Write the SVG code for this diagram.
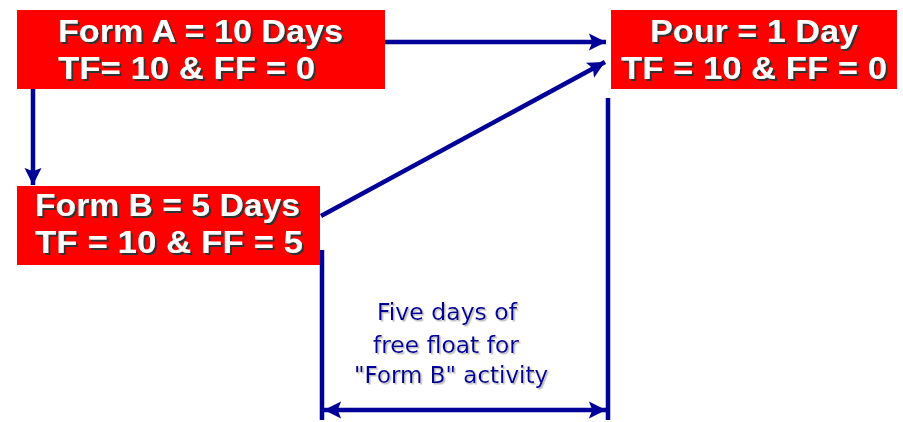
<svg xmlns="http://www.w3.org/2000/svg" width="903" height="422" viewBox="0 0 903 422">
<defs>
<marker id="ah" viewBox="0 0 10 10" refX="10" refY="5" markerWidth="3.8" markerHeight="4" orient="auto-start-reverse" markerUnits="strokeWidth">
<path d="M0,0 L10,5 L0,10 L2,5 z" fill="#000099"/>
</marker>
<filter id="sh" x="-5%" y="-20%" width="110%" height="140%">
<feDropShadow dx="2" dy="2" stdDeviation="0.3" flood-color="#333333" flood-opacity="1"/>
</filter>
<filter id="sh2" x="-5%" y="-20%" width="110%" height="140%">
<feDropShadow dx="1.5" dy="1.5" stdDeviation="0.3" flood-color="#bbbbbb" flood-opacity="1"/>
</filter>
</defs>
<style>
.box{fill:#ff0000}
.bt{font-family:"Liberation Sans",Arial,sans-serif;font-weight:bold;font-size:31px;fill:#ffffff;filter:url(#sh)}
.c{stroke:#000099;stroke-width:4.5;fill:none}
.lt{font-family:"DejaVu Sans","Verdana",sans-serif;font-size:23px;fill:#000099;text-anchor:middle;filter:url(#sh2)}
</style>
<rect width="903" height="422" fill="#ffffff"/>
<g id="connectors">
<line class="c" x1="385" y1="42" x2="606" y2="42" marker-end="url(#ah)"/>
<line class="c" x1="321" y1="216" x2="605" y2="62" marker-end="url(#ah)"/>
<line class="c" x1="33" y1="89" x2="33" y2="185" marker-end="url(#ah)"/>
<line class="c" x1="322" y1="250" x2="322" y2="420"/>
<line class="c" x1="608" y1="98" x2="608" y2="420"/>
<line class="c" x1="324" y1="410" x2="606" y2="410" marker-start="url(#ah)" marker-end="url(#ah)"/>
</g>
<g id="formA">
<rect class="box" x="17" y="10" width="368" height="79"/>
<text class="bt" x="58" y="42" textLength="285" lengthAdjust="spacingAndGlyphs">Form A = 10 Days</text>
<text class="bt" x="58" y="79" textLength="257" lengthAdjust="spacingAndGlyphs">TF= 10 &amp; FF = 0</text>
</g>
<g id="pour">
<rect class="box" x="611" y="10" width="286" height="79"/>
<text class="bt" x="650" y="42" textLength="208" lengthAdjust="spacingAndGlyphs">Pour = 1 Day</text>
<text class="bt" x="621" y="79" textLength="266" lengthAdjust="spacingAndGlyphs">TF = 10 &amp; FF = 0</text>
</g>
<g id="formB">
<rect class="box" x="17" y="186" width="303" height="79"/>
<text class="bt" x="35" y="216" textLength="265" lengthAdjust="spacingAndGlyphs">Form B = 5 Days</text>
<text class="bt" x="35" y="253" textLength="268" lengthAdjust="spacingAndGlyphs">TF = 10 &amp; FF = 5</text>
</g>
<g id="label">
<text class="lt" x="447" y="320" textLength="140" lengthAdjust="spacingAndGlyphs">Five days of</text>
<text class="lt" x="446" y="353" textLength="146" lengthAdjust="spacingAndGlyphs">free float for</text>
<text class="lt" x="451" y="383" textLength="194" lengthAdjust="spacingAndGlyphs">"Form B" activity</text>
</g>
</svg>
